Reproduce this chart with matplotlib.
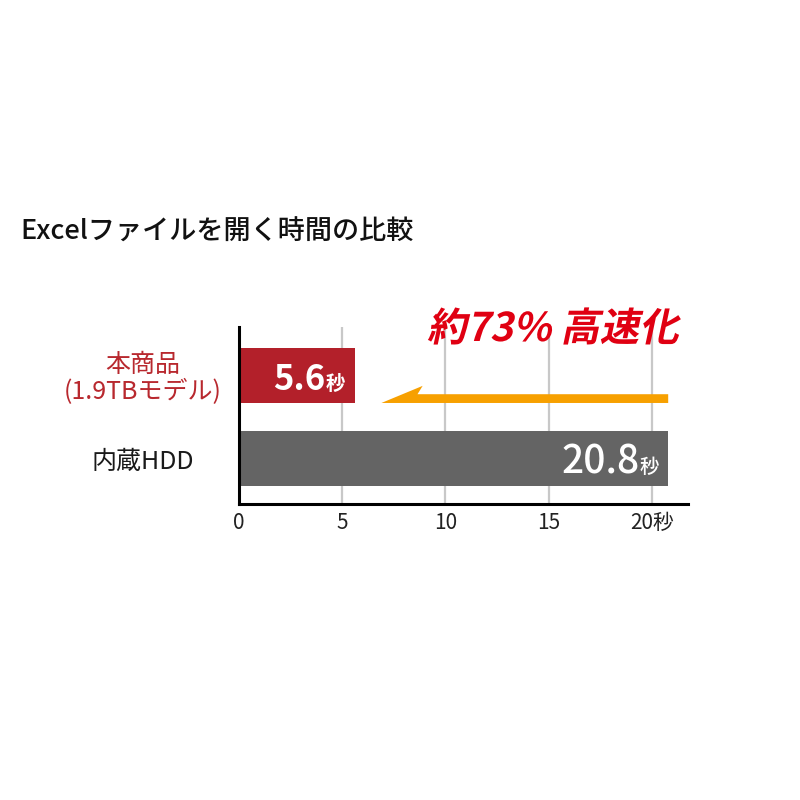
import matplotlib
matplotlib.use("Agg")
import matplotlib.pyplot as plt
from matplotlib.patches import Polygon, PathPatch
from matplotlib.textpath import TextPath
from matplotlib.font_manager import FontProperties
from matplotlib.transforms import Affine2D, IdentityTransform

plt.rcParams['font.family'] = ['Noto Sans CJK JP', 'DejaVu Sans']

title = "Excelファイルを開く時間の比較"
headline = "約73% 高速化"
categories = ["内蔵HDD", "本商品\n(1.9TBモデル)"]
values = [20.8, 5.6]
value_labels = ["20.8", "5.6"]
unit = "秒"
xticks = [0, 5, 10, 15, 20]
xtick_labels = ["0", "5", "10", "15", "20秒"]

bar_colors = ["#646464", "#b3202a"]
label_colors = ["#1a1a1a", "#b8282e"]

fig = plt.figure(figsize=(8, 8), dpi=100)
ax = fig.add_axes([0.29875, 0.37, 0.561, 0.22125])

ypos = list(range(len(categories)))
ax.barh(ypos, values, height=0.66, color=bar_colors, zorder=2)

ax.set_xlim(0, 21.75)
ax.set_ylim(-0.54, 1.58)

# grid lines
for x in xticks[1:]:
    ax.axvline(x, color="#c8c8c8", lw=1.6, zorder=1)

ax.set_xticks(xticks, xtick_labels)
ax.set_yticks(ypos, categories)
ax.tick_params(axis='x', length=0, pad=6, labelsize=15, labelcolor="#222222")
ax.tick_params(axis='y', length=0, pad=69, labelsize=18)
for lab, c in zip(ax.get_yticklabels(), label_colors):
    lab.set_ha('center')
    lab.set_color(c)
    lab.set_linespacing(1.05)

for s in ['top', 'right']:
    ax.spines[s].set_visible(False)
for s in ['left', 'bottom']:
    ax.spines[s].set_linewidth(2.2)
    ax.spines[s].set_color("black")
    ax.spines[s].set_zorder(3)

# value labels inside bars
styles = [dict(size=28, weight='medium'), dict(size=25, weight='bold')]
for y, v, txt, st in zip(ypos, values, value_labels, styles):
    t_unit = ax.text(v - 0.45, y - 0.17, unit, ha='right', va='baseline',
                     color='white', fontsize=14, fontweight=st['weight'], zorder=4)
    ax.annotate(txt, xy=(0, y - 0.17), xycoords=(t_unit, 'data'),
                ha='right', va='baseline', color='white',
                fontsize=st['size'], fontweight=st['weight'], zorder=4)

# orange harpoon arrow from HDD time back toward product time
tail = values[0]
tip = values[1] + 1.3
y_lo, y_hi, y_barb = 0.67, 0.775, 0.875
arrow = Polygon([(tip, y_lo), (tip + 2.0, y_barb), (tip + 1.75, y_hi),
                 (tail, y_hi), (tail, y_lo)],
                closed=True, facecolor="#f7a000", edgecolor='none', zorder=3)
ax.add_patch(arrow)

# title
fig.text(20 / 800, 1 - 232 / 800, title, ha='left', va='center',
         fontsize=19.5, color="#111111", fontweight='medium')

# italic red headline via skewed text path
fp = FontProperties(family=['Noto Sans CJK JP'], weight='bold')
tp = TextPath((0, 0), headline, size=39.5, prop=fp)
tr = Affine2D().skew_deg(12, 0).translate(427, 800 - 341) + IdentityTransform()
patch = PathPatch(tp, transform=tr, facecolor="#e00012", edgecolor='none')
fig.patches.append(patch)

fig.savefig("out.png", dpi=100, facecolor='white')
